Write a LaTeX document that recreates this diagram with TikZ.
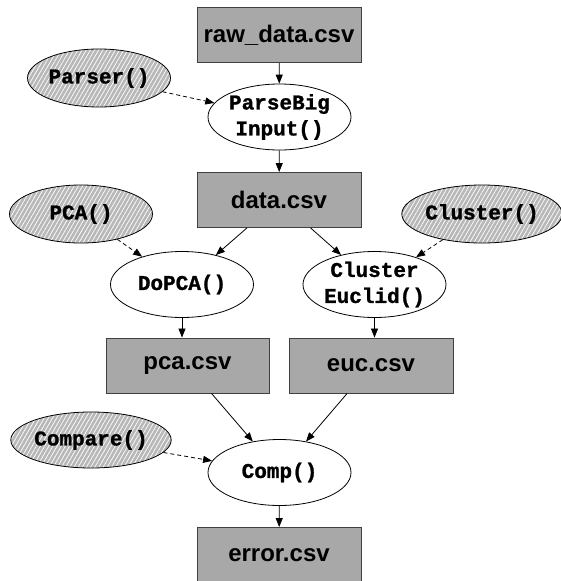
\documentclass[tikz,border=0pt]{standalone}
\usepackage{fontspec}
\setmainfont{Liberation Sans}
\newfontfamily\monob[FakeBold=1.2]{Liberation Mono}
\usetikzlibrary{arrows.meta,shapes.geometric,patterns.meta}
\definecolor{boxgray}{gray}{0.66}
\definecolor{hatchgray}{gray}{0.72}
\begin{document}
\begin{tikzpicture}[x=1pt,y=1pt,
  filebox/.style={rectangle, draw=black!75, line width=0.9pt, fill=boxgray,
    minimum width=164pt, minimum height=55pt, inner sep=0pt,
    font=\fontsize{24}{26}\selectfont\bfseries},
  func/.style={ellipse, draw=black, line width=0.8pt, fill=white,
    minimum width=143pt, minimum height=66pt, inner sep=0pt, align=center,
    font=\fontsize{21}{26}\selectfont\monob\bfseries},
  lib/.style={ellipse, draw=black, line width=0.8pt,
    preaction={fill=hatchgray},
    pattern={Lines[angle=60,distance=3.6pt,line width=0.7pt]}, pattern color=white,
    minimum width=143pt, minimum height=58pt, inner sep=0pt,
    font=\fontsize{21}{24}\selectfont\monob\bfseries},
  conn/.style={line width=0.8pt, -{Triangle[length=9pt,width=7pt]}},
  dconn/.style={conn, dashed, dash pattern=on 4pt off 3pt}]
\useasboundingbox (0,0) rectangle (560,-581);

\node[filebox] (raw)   at (279,-35)    {raw\_data.csv};
\node[func]    (pbi)   at (279.5,-117) {ParseBig\\Input()};
\node[lib]     (parser) at (99,-78)    {Parser()};
\node[filebox] (data)  at (279,-200)   {data.csv};
\node[lib]     (pca)   at (81,-214)    {PCA()};
\node[lib]     (clus)  at (482,-214)   {Cluster()};
\node[func]    (dopca) at (182,-284.5) {DoPCA()};
\node[func]    (ceuc)  at (374.5,-284.5) {Cluster\\Euclid()};
\node[filebox, minimum width=163pt] (pcacsv) at (187.5,-365.5) {pca.csv};
\node[filebox] (euccsv) at (371,-365.5) {euc.csv};
\node[lib, minimum width=160pt, minimum height=56pt] (compare) at (91,-440) {Compare()};
\node[func]    (comp)  at (279.5,-472.5) {Comp()};
\node[filebox] (err)   at (279,-555)   {error.csv};

\draw[conn] (raw) -- (pbi);
\draw[dconn] (parser) -- (pbi);
\draw[conn] (pbi) -- (data);
\draw[conn] (data) -- (dopca);
\draw[conn] (data) -- (ceuc);
\draw[dconn] (pca) -- (dopca);
\draw[dconn] (clus) -- (ceuc);
\draw[conn] (dopca.south) -- (dopca.south |- pcacsv.north);
\draw[conn] (ceuc.south) -- (ceuc.south |- euccsv.north);
\draw[conn] (pcacsv) -- (comp);
\draw[conn] (euccsv) -- (comp);
\draw[dconn] (compare) -- (comp);
\draw[conn] (comp) -- (err);
\end{tikzpicture}
\end{document}
